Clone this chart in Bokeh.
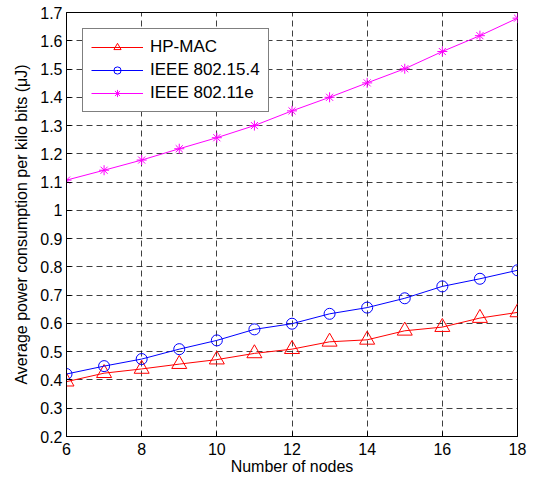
from bokeh.plotting import figure
from bokeh.models import FixedTicker, Range1d, Legend, LegendItem
from bokeh.embed import file_html
from bokeh.resources import INLINE

x_nodes = [6, 7, 8, 9, 10, 11, 12, 13, 14, 15, 16, 17, 18]
hp_mac = [0.394, 0.424, 0.439, 0.456, 0.472, 0.494, 0.509, 0.535, 0.542, 0.574, 0.587, 0.619, 0.639]
ieee_802154 = [0.421, 0.449, 0.474, 0.509, 0.540, 0.579, 0.599, 0.634, 0.656, 0.689, 0.731, 0.758, 0.788]
ieee_80211e = [1.107, 1.142, 1.178, 1.218, 1.257, 1.300, 1.352, 1.400, 1.451, 1.501, 1.562, 1.618, 1.680]

x_ticks = [6, 8, 10, 12, 14, 16, 18]
y_ticks = [0.2, 0.3, 0.4, 0.5, 0.6, 0.7, 0.8, 0.9, 1.0, 1.1, 1.2, 1.3, 1.4, 1.5, 1.6, 1.7]
y_tick_labels = ["0.2", "0.3", "0.4", "0.5", "0.6", "0.7", "0.8", "0.9", "1",
                 "1.1", "1.2", "1.3", "1.4", "1.5", "1.6", "1.7"]

FONT = "Liberation Sans"

p = figure(width=527, height=477, output_backend="svg", toolbar_location=None,
           x_range=Range1d(6, 18), y_range=Range1d(0.2, 1.7),
           min_border_left=66, min_border_right=10, min_border_top=12, min_border_bottom=34)

p.background_fill_color = "white"
p.border_fill_color = "white"
p.outline_line_color = "black"
p.outline_line_width = 1
p.outline_line_alpha = 1

for ax in (p.xaxis, p.yaxis):
    ax.major_label_text_font = FONT
    ax.major_label_text_font_size = "16px"
    ax.major_label_text_color = "black"
    ax.axis_label_text_font = FONT
    ax.axis_label_text_font_size = "16px"
    ax.axis_label_text_font_style = "normal"
    ax.axis_label_text_color = "black"
    ax.axis_line_color = "black"
    ax.major_tick_line_color = "black"
    ax.major_tick_in = 5
    ax.major_tick_out = 0
    ax.minor_tick_line_color = None

p.xaxis.ticker = FixedTicker(ticks=x_ticks)
p.yaxis.ticker = FixedTicker(ticks=y_ticks)
p.yaxis.major_label_overrides = {t: l for t, l in zip(y_ticks, y_tick_labels)}
p.xaxis.axis_label = "Number of nodes"
p.yaxis.axis_label = "Average power consumption per kilo bits (\u03bcJ)"
p.xaxis.major_label_standoff = 6
p.xaxis.axis_label_standoff = 0
p.yaxis.major_label_standoff = 4
p.yaxis.axis_label_standoff = 7

for g in (p.xgrid, p.ygrid):
    g.grid_line_color = "black"
    g.grid_line_alpha = 0.75
    g.grid_line_dash = "6 4"
    g.grid_line_width = 1

l1 = p.line(x_nodes, hp_mac, line_color="#ff0000", line_width=1)
m1 = p.scatter(x_nodes, hp_mac, marker="triangle", size=15, line_color="#ff0000",
               fill_color=None, line_width=1)
l2 = p.line(x_nodes, ieee_802154, line_color="#0000ff", line_width=1)
m2 = p.scatter(x_nodes, ieee_802154, marker="circle", size=11, line_color="#0000ff",
               fill_color=None, line_width=1)
l3 = p.line(x_nodes, ieee_80211e, line_color="#ff00ff", line_width=1)
m3 = p.scatter(x_nodes, ieee_80211e, marker="asterisk", size=10, line_color="#ff00ff",
               line_width=1)

legend = Legend(items=[
    LegendItem(label="HP-MAC", renderers=[l1, m1]),
    LegendItem(label="IEEE 802.15.4", renderers=[l2, m2]),
    LegendItem(label="IEEE 802.11e", renderers=[l3, m3]),
], location="top_left",
    margin=16, padding=8, spacing=3,
    glyph_width=52, glyph_height=18, label_height=18, label_standoff=7,
    label_text_font=FONT, label_text_font_size="17px", label_text_color="black",
    border_line_color="black", border_line_width=1,
    background_fill_color="white", background_fill_alpha=1)
p.add_layout(legend)

open("out.html", "w").write(file_html(p, INLINE))
